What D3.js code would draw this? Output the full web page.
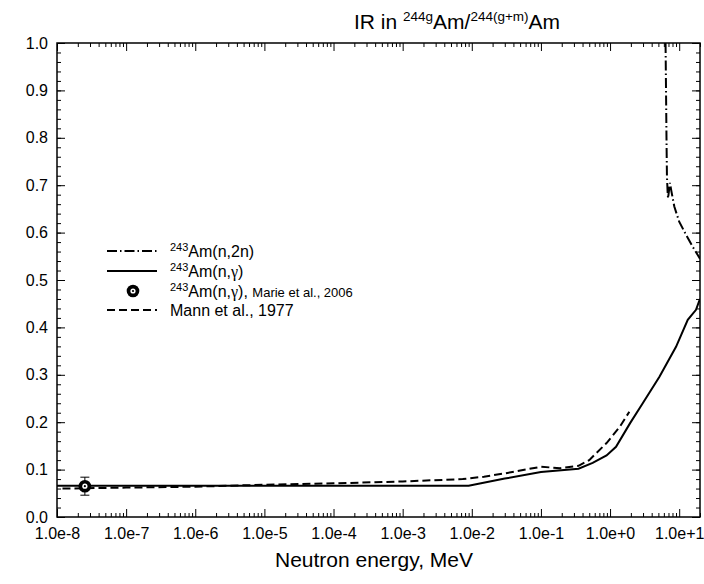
<!DOCTYPE html>
<html>
<head>
<meta charset="utf-8">
<script src="https://cdnjs.cloudflare.com/ajax/libs/d3/7.8.5/d3.min.js"></script>
<style>
  body { margin: 0; background: #fff; }
  text { font-family: "Liberation Sans", Arial, sans-serif; fill: #000; }
</style>
</head>
<body>
<svg id="chart" width="704" height="584"></svg>
<script>
// --- data (energy in MeV, isomeric ratio) ---
var nGammaE   = [1e-8, 9e-3, 0.03, 0.1, 0.35, 0.56, 0.89, 1.22, 1.95, 2.97, 5.18, 9.0, 13.3, 17.5, 20];
var nGammaIR  = [0.066, 0.066, 0.081, 0.095, 0.102, 0.114, 0.130, 0.148, 0.198, 0.240, 0.296, 0.359, 0.416, 0.437, 0.460];

var n2nE      = [6.35, 6.45, 6.55, 6.65, 6.8, 6.9, 7.35, 7.65, 8.5, 10.0, 12.6, 15.7, 20];
var n2nIR     = [1.0, 0.90, 0.80, 0.72, 0.685, 0.672, 0.705, 0.690, 0.655, 0.623, 0.595, 0.570, 0.545];

var mannE     = [1.2e-8, 1e-7, 1e-6, 1e-5, 1e-4, 1e-3, 7.4e-3, 1.5e-2, 3e-2, 0.1, 0.19, 0.35, 0.5, 0.89, 1.38, 1.9];
var mannIR    = [0.060, 0.062, 0.064, 0.068, 0.071, 0.075, 0.080, 0.085, 0.092, 0.106, 0.103, 0.108, 0.120, 0.156, 0.190, 0.222];

var marieE    = [2.53e-8];
var marieIR   = [0.065];
var marieErr  = [0.019];

var xDecades  = [1e-8, 1e-7, 1e-6, 1e-5, 1e-4, 1e-3, 1e-2, 1e-1, 1, 10];
var yMajor    = [0, 0.1, 0.2, 0.3, 0.4, 0.5, 0.6, 0.7, 0.8, 0.9, 1.0];

var svg = d3.select('#chart');
var plotLeft = 57, plotRight = 700, plotTop = 43, plotBottom = 517;

var x = d3.scaleLog().domain([1e-8, 20]).range([plotLeft, plotRight]);
var y = d3.scaleLinear().domain([0, 1]).range([plotBottom, plotTop]);

// minor ticks: 2..9 in every decade, 0.02 steps on y
var xMinor = [];
xDecades.forEach(function(d) {
    for (var k = 2; k <= 9; k++) {
        if (d * k <= 20) xMinor.push(d * k);
    }
});
var yMinor = d3.range(0, 51).map(function(i) { return i * 0.02; });

var fmtX = function(d) { return d.toExponential(1); };
var fmtY = d3.format('.1f');

function styleAxis(g) {
    g.select('.domain').remove();
    g.selectAll('line').attr('stroke', '#000').attr('stroke-width', 1);
    g.selectAll('text').style('font-size', '16px').attr('fill', '#000');
}

// bottom
svg.append('g').attr('transform', 'translate(0,' + plotBottom + ')')
    .call(d3.axisBottom(x).tickValues(xMinor).tickSize(-4).tickFormat(''))
    .call(styleAxis);
svg.append('g').attr('transform', 'translate(0,' + plotBottom + ')')
    .call(d3.axisBottom(x).tickValues(xDecades).tickSize(-8).tickPadding(11).tickFormat(fmtX))
    .call(styleAxis);
// top
svg.append('g').attr('transform', 'translate(0,' + plotTop + ')')
    .call(d3.axisTop(x).tickValues(xMinor).tickSize(-4).tickFormat(''))
    .call(styleAxis);
svg.append('g').attr('transform', 'translate(0,' + plotTop + ')')
    .call(d3.axisTop(x).tickValues(xDecades).tickSize(-8).tickFormat(''))
    .call(styleAxis);
// left
svg.append('g').attr('transform', 'translate(' + plotLeft + ',0)')
    .call(d3.axisLeft(y).tickValues(yMinor).tickSize(-4).tickFormat(''))
    .call(styleAxis);
svg.append('g').attr('transform', 'translate(' + plotLeft + ',0)')
    .call(d3.axisLeft(y).tickValues(yMajor).tickSize(-8).tickPadding(9).tickFormat(fmtY))
    .call(styleAxis);
// right
svg.append('g').attr('transform', 'translate(' + plotRight + ',0)')
    .call(d3.axisRight(y).tickValues(yMinor).tickSize(-4).tickFormat(''))
    .call(styleAxis);
svg.append('g').attr('transform', 'translate(' + plotRight + ',0)')
    .call(d3.axisRight(y).tickValues(yMajor).tickSize(-8).tickFormat(''))
    .call(styleAxis);

svg.append('rect')
    .attr('x', plotLeft).attr('y', plotTop)
    .attr('width', plotRight - plotLeft).attr('height', plotBottom - plotTop)
    .attr('fill', 'none').attr('stroke', '#000').attr('stroke-width', 1.5);

svg.append('clipPath').attr('id', 'plotClip')
    .append('rect').attr('x', plotLeft).attr('y', plotTop)
    .attr('width', plotRight - plotLeft).attr('height', plotBottom - plotTop);

var line = d3.line()
    .x(function(d) { return x(d[0]); })
    .y(function(d) { return y(d[1]); });

var plot = svg.append('g').attr('clip-path', 'url(#plotClip)');

plot.append('path')
    .datum(d3.zip(mannE, mannIR))
    .attr('d', line)
    .attr('fill', 'none').attr('stroke', '#000').attr('stroke-width', 2)
    .attr('stroke-dasharray', '8,4');

plot.append('path')
    .datum(d3.zip(nGammaE, nGammaIR))
    .attr('d', line)
    .attr('fill', 'none').attr('stroke', '#000').attr('stroke-width', 2);

plot.append('path')
    .datum(d3.zip(n2nE, n2nIR))
    .attr('d', line)
    .attr('fill', 'none').attr('stroke', '#000').attr('stroke-width', 2)
    .attr('stroke-dasharray', '10,3,1.5,3');

// experimental point
var marie = d3.zip(marieE, marieIR, marieErr);
var pt = svg.selectAll('.marie').data(marie).enter().append('g').attr('class', 'marie');
pt.append('line')
    .attr('x1', function(d) { return x(d[0]); }).attr('x2', function(d) { return x(d[0]); })
    .attr('y1', function(d) { return y(d[1] - d[2]); }).attr('y2', function(d) { return y(d[1] + d[2]); })
    .attr('stroke', '#000').attr('stroke-width', 1);
[-1, 1].forEach(function(s) {
    pt.append('line')
        .attr('x1', function(d) { return x(d[0]) - 4.5; }).attr('x2', function(d) { return x(d[0]) + 4.5; })
        .attr('y1', function(d) { return y(d[1] + s * d[2]); }).attr('y2', function(d) { return y(d[1] + s * d[2]); })
        .attr('stroke', '#000').attr('stroke-width', 1);
});
function bullseye(g, cx, cy) {
    g.append('circle').attr('cx', cx).attr('cy', cy).attr('r', 6.3).attr('fill', '#000');
    g.append('circle').attr('cx', cx).attr('cy', cy).attr('r', 2.6).attr('fill', '#fff');
    g.append('circle').attr('cx', cx).attr('cy', cy).attr('r', 1.1).attr('fill', '#000');
}
marie.forEach(function(d) { bullseye(pt, x(d[0]), y(d[1])); });

// title
var title = svg.append('text').attr('x', 354).attr('y', 29).style('font-size', '21px');
title.append('tspan').text('IR in ');
title.append('tspan').attr('dy', -8).style('font-size', '13.5px').text('244g');
title.append('tspan').attr('dy', 8).text('Am/');
title.append('tspan').attr('dy', -8).style('font-size', '13.5px').text('244(g+m)');
title.append('tspan').attr('dy', 8).text('Am');

// x axis title
svg.append('text')
    .attr('x', 374).attr('y', 567)
    .attr('text-anchor', 'middle')
    .style('font-size', '21px')
    .text('Neutron energy, MeV');

// legend
var legendY = [251, 271, 291, 310];
var lx0 = 107, lx1 = 157, tx = 170;
var lg = svg.append('g');

lg.append('line').attr('x1', lx0).attr('x2', lx1).attr('y1', legendY[0]).attr('y2', legendY[0])
    .attr('stroke', '#000').attr('stroke-width', 2).attr('stroke-dasharray', '10,3,1.5,3');
lg.append('line').attr('x1', lx0).attr('x2', lx1).attr('y1', legendY[1]).attr('y2', legendY[1])
    .attr('stroke', '#000').attr('stroke-width', 2);
bullseye(lg, 133, legendY[2]);
lg.append('line').attr('x1', lx0).attr('x2', lx1).attr('y1', legendY[3]).attr('y2', legendY[3])
    .attr('stroke', '#000').attr('stroke-width', 2).attr('stroke-dasharray', '8,4');

function amLabel(yy, reaction, extra) {
    var t = lg.append('text').attr('x', tx).attr('y', yy + 6).style('font-size', '16px');
    t.append('tspan').attr('dy', -6).style('font-size', '11px').text('243');
    t.append('tspan').attr('dy', 6).text('Am(n,');
    if (reaction === 'g') {
        t.append('tspan').style('font-family', '"Liberation Serif", serif').text('γ');
    } else {
        t.append('tspan').text(reaction);
    }
    t.append('tspan').text(')');
    if (extra) {
        t.append('tspan').text(', ');
        t.append('tspan').style('font-size', '13px').text(extra);
    }
}
amLabel(legendY[0], '2n');
amLabel(legendY[1], 'g');
amLabel(legendY[2], 'g', 'Marie et al., 2006');
lg.append('text').attr('x', tx).attr('y', legendY[3] + 6).style('font-size', '16px').text('Mann et al., 1977');
</script>
</body>
</html>
